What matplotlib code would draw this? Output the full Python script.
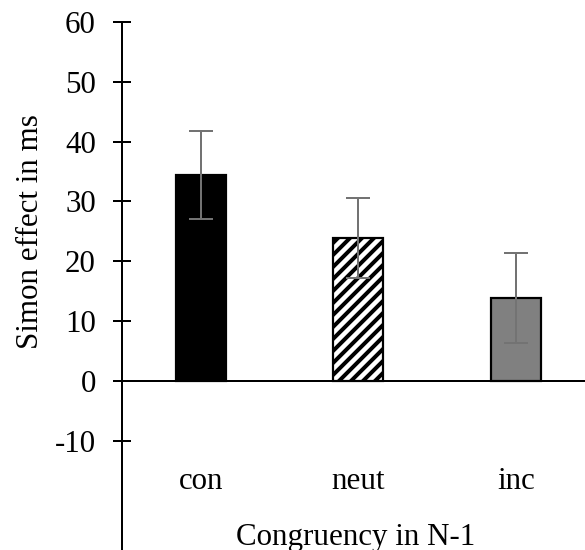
import numpy as np
import matplotlib
matplotlib.use("Agg")
import matplotlib.pyplot as plt

# data
categories = ["con", "neut", "inc"]
simon_effect = [34.4, 23.9, 13.9]
errors = [7.4, 6.7, 7.55]
y_ticks = [-10, 0, 10, 20, 30, 40, 50, 60]

plt.rcParams["font.family"] = ["Liberation Serif", "DejaVu Serif"]
plt.rcParams["axes.unicode_minus"] = False
plt.rcParams["hatch.linewidth"] = 2.0
plt.rcParams["hatch.color"] = "black"

DPI = 144  # 1 pt == 2 px
fig = plt.figure(figsize=(585 / DPI, 550 / DPI), dpi=DPI)
ax = fig.add_axes([122 / 585, 0, 463 / 585, 528 / 550])

x = np.arange(len(categories))
fills = ["black", "white", "#808080"]
hatches = [None, "////", None]

for xi, val, fc, h in zip(x, simon_effect, fills, hatches):
    ax.bar(xi, val, width=0.315, color=fc, edgecolor="black",
           linewidth=1.1, hatch=h, zorder=2)

ax.errorbar(x, simon_effect, yerr=errors, fmt="none", ecolor="#737373",
            elinewidth=1.0, capsize=6, capthick=1.0, zorder=3)

ax.set_xlim(-0.5, 2.44)
ax.set_ylim(-28.25, 60)

ax.spines["top"].set_visible(False)
ax.spines["right"].set_visible(False)
ax.spines["bottom"].set_position(("data", 0))
ax.spines["left"].set_linewidth(1.0)
ax.spines["bottom"].set_linewidth(1.0)

ax.set_yticks(y_ticks)
ax.tick_params(axis="y", direction="inout", length=9, width=1.0,
               pad=8.5, labelsize=15.5)
ax.set_xticks([])

# category labels below the zero line
for xi, cat in zip(x, categories):
    ax.text(xi, -18.1, cat, ha="center", va="baseline", fontsize=15.5)

ax.text(0.985, -27.4, "Congruency in N-1", ha="center", va="baseline",
        fontsize=15.5)

fig.text(38 / 585, 1 - 232 / 550, "Simon effect in ms", rotation=90,
         rotation_mode="anchor", ha="center", va="baseline", fontsize=15.5)

fig.savefig("out.png", dpi=DPI)
